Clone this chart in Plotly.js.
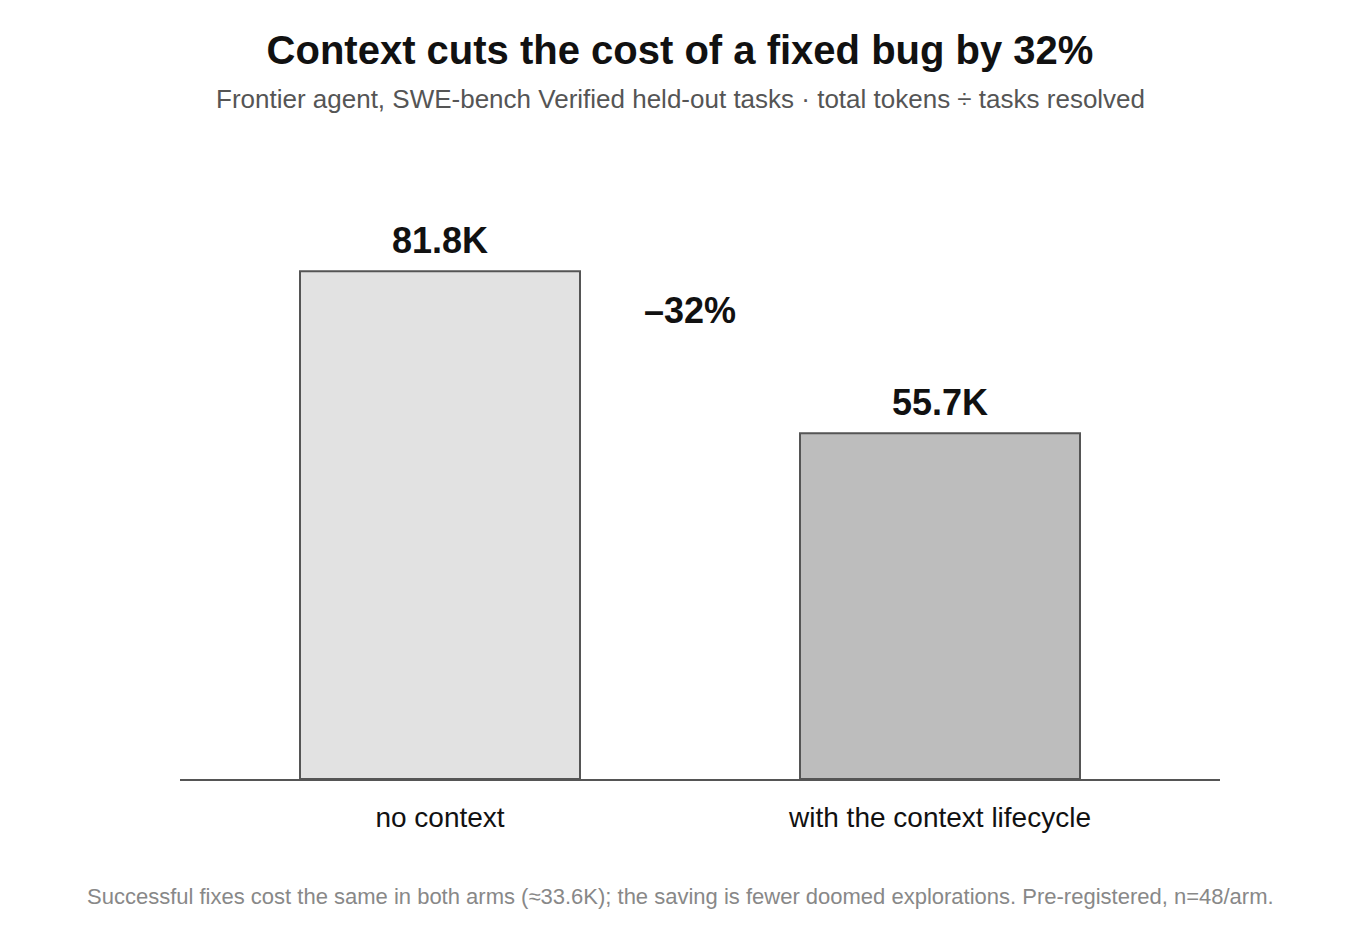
<!DOCTYPE html>
<html>
<head>
<meta charset="utf-8">
<script src="https://cdn.plot.ly/plotly-3.0.1.min.js"></script>
<style>html,body{margin:0;padding:0;background:#fff;}#chart{width:1360px;height:940px;}</style>
</head>
<body>
<div id="chart"></div>
<script>
const categories = ["no context", "with the context lifecycle"];
const costK = [81.8, 55.7];
const valueLabels = ["81.8K", "55.7K"];
const barColors = ["#e2e2e2", "#bdbdbd"];
const reductionLabel = "\u201332%";
const titleText = "Context cuts the cost of a fixed bug by 32%";
const subtitleText = "Frontier agent, SWE-bench Verified held-out tasks \u00b7 total tokens \u00f7 tasks resolved";
const footnoteText = "Successful fixes cost the same in both arms (\u224833.6K); the saving is fewer doomed explorations. Pre-registered, n=48/arm.";

const FONT = "Liberation Sans, Arial, Helvetica, sans-serif";
const PLOT_TOP = 160, PLOT_BOTTOM = 779, PLOT_LEFT = 180, PLOT_RIGHT = 1220;
const py = p => (PLOT_BOTTOM - p) / (PLOT_BOTTOM - PLOT_TOP);
const px = p => (p - PLOT_LEFT) / (PLOT_RIGHT - PLOT_LEFT);

const trace = {
  type: "bar",
  x: [0, 1],
  y: costK,
  width: 0.56,
  marker: {color: barColors, line: {color: "#555555", width: 2}},
  hoverinfo: "skip"
};

const annotations = costK.map((v, i) => ({
  x: i, y: v, xref: "x", yref: "y",
  text: "<b>" + valueLabels[i] + "</b>",
  showarrow: false, yanchor: "bottom", yshift: 8,
  font: {family: FONT, size: 36, color: "#111111"}
}));
annotations.push({
  x: 0.5, y: 75.4, xref: "x", yref: "y",
  text: "<b>" + reductionLabel + "</b>",
  showarrow: false, yanchor: "middle",
  font: {family: FONT, size: 36, color: "#111111"}
});
annotations.push({
  x: px(680), xref: "paper", xanchor: "center",
  y: py(99), yref: "paper", yanchor: "middle",
  text: subtitleText, showarrow: false,
  font: {family: FONT, size: 26, color: "#555555"}
});
annotations.push({
  x: px(680), xref: "paper", xanchor: "center",
  y: py(896), yref: "paper", yanchor: "middle",
  text: footnoteText, showarrow: false,
  font: {family: FONT, size: 22, color: "#888888"}
});

const layout = {
  width: 1360, height: 940,
  margin: {l: PLOT_LEFT, r: 1360 - PLOT_RIGHT, t: PLOT_TOP, b: 940 - PLOT_BOTTOM},
  paper_bgcolor: "#ffffff", plot_bgcolor: "#ffffff",
  showlegend: false,
  font: {family: FONT},
  title: {
    text: "<b>" + titleText + "</b>",
    x: 0.5, xanchor: "center",
    y: 1 - 50 / 940, yanchor: "middle", yref: "container",
    font: {family: FONT, size: 40, color: "#111111"}
  },
  xaxis: {
    range: [-0.52, 1.56],
    tickmode: "array", tickvals: [0, 1], ticktext: categories,
    showgrid: false, zeroline: false,
    showline: true, linecolor: "#555555", linewidth: 2,
    ticks: "", tickfont: {family: FONT, size: 28, color: "#111111"},
    ticklabelstandoff: 12,
    fixedrange: true
  },
  yaxis: {
    range: [0, 99.7], visible: false, showgrid: false, zeroline: false, fixedrange: true
  },
  annotations: annotations
};

Plotly.newPlot("chart", [trace], layout, {displayModeBar: false, staticPlot: true});
</script>
</body>
</html>
